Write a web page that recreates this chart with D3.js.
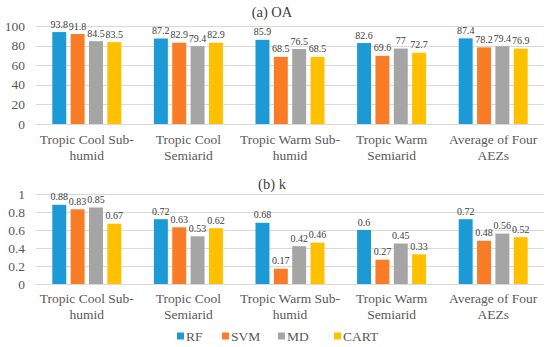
<!DOCTYPE html>
<html>
<head>
<meta charset="utf-8">
<script src="https://cdn.jsdelivr.net/npm/d3@7"></script>
<style>
  body { margin: 0; background: #fff; }
</style>
</head>
<body>
<div id="plot"></div>
<script>
// Data
const categories = [
  ["Tropic Cool Sub-", "humid"],
  ["Tropic Cool", "Semiarid"],
  ["Tropic Warm Sub-", "humid"],
  ["Tropic Warm", "Semiarid"],
  ["Average of Four", "AEZs"]
];
const methods = ["RF", "SVM", "MD", "CART"];

const oaRF = [93.8, 87.2, 85.9, 82.6, 87.4];
const oaSVM = [91.8, 82.9, 68.5, 69.6, 78.2];
const oaMD = [84.5, 79.4, 76.5, 77, 79.4];
const oaCART = [83.5, 82.9, 68.5, 72.7, 76.9];

const kRF = [0.88, 0.72, 0.68, 0.6, 0.72];
const kSVM = [0.83, 0.63, 0.17, 0.27, 0.48];
const kMD = [0.85, 0.53, 0.42, 0.45, 0.56];
const kCART = [0.67, 0.62, 0.46, 0.33, 0.52];

const oaTicks = [0, 20, 40, 60, 80, 100];
const kTicks = [0, 0.2, 0.4, 0.6, 0.8, 1];

const width = 550, height = 347;
const left = 36, right = 544;
const FONT = "'Liberation Serif'";

const color = d3.scaleOrdinal()
  .domain(methods)
  .range(['#1b9ad6', '#fb7c26', '#a5a5a5', '#ffc000']);

const svg = d3.select('#plot')
  .append('svg')
  .attr('width', width)
  .attr('height', height)
  .style('display', 'block')
  .style('background', '#fff');

const x0 = d3.scaleBand()
  .domain(d3.range(categories.length))
  .range([left, right])
  .padding(0);

const inner = 69;
const x1 = d3.scaleBand()
  .domain(methods)
  .range([(x0.bandwidth() - inner) / 2, (x0.bandwidth() + inner) / 2])
  .paddingInner(0.24)
  .paddingOuter(0);

function drawPanel(opts) {
  const g = svg.append('g');
  const y = d3.scaleLinear().domain([0, opts.max]).range([opts.y0, opts.y1]);

  // gridlines
  g.selectAll('line.grid')
    .data(opts.ticks)
    .join('line')
    .attr('x1', left).attr('x2', right)
    .attr('y1', d => Math.round(y(d)) + 0.5)
    .attr('y2', d => Math.round(y(d)) + 0.5)
    .attr('stroke', '#d9d9d9')
    .attr('stroke-width', 1);

  // y tick labels
  g.selectAll('text.ytick')
    .data(opts.ticks)
    .join('text')
    .attr('x', 25)
    .attr('y', d => y(d) + 4.5)
    .attr('text-anchor', 'end')
    .style('font-family', FONT)
    .style('font-size', '13.5px')
    .style('fill', '#595959')
    .text(d => d);

  // title
  g.append('text')
    .attr('x', 272)
    .attr('y', opts.titleY)
    .attr('text-anchor', 'middle')
    .style('font-family', FONT)
    .style('font-size', '14.5px')
    .style('fill', '#404040')
    .text(opts.title);

  const rows = [];
  opts.series.forEach((vals, si) => {
    vals.forEach((v, ci) => rows.push({ method: methods[si], cat: ci, value: v }));
  });

  const groups = g.selectAll('g.cat')
    .data(d3.group(rows, d => d.cat))
    .join('g')
    .attr('transform', d => `translate(${x0(d[0])},0)`);

  groups.selectAll('rect')
    .data(d => d[1])
    .join('rect')
    .attr('x', d => x1(d.method))
    .attr('y', d => y(d.value))
    .attr('width', x1.bandwidth())
    .attr('height', d => y(0) - y(d.value))
    .attr('fill', d => color(d.method));

  groups.selectAll('text')
    .data(d => d[1])
    .join('text')
    .attr('x', d => x1(d.method) + x1.bandwidth() / 2)
    .attr('y', d => y(d.value) - 4.5)
    .attr('text-anchor', 'middle')
    .style('font-family', FONT)
    .style('font-size', '10px')
    .style('fill', '#404040')
    .text(d => d.value);

  // category labels
  const cl = g.selectAll('text.cat')
    .data(categories)
    .join('text')
    .attr('x', (d, i) => x0(i) + x0.bandwidth() / 2)
    .attr('y', opts.labelY)
    .attr('text-anchor', 'middle')
    .style('font-family', FONT)
    .style('font-size', '13.5px')
    .style('fill', '#595959');
  cl.selectAll('tspan')
    .data(d => d)
    .join('tspan')
    .attr('x', function () { return d3.select(this.parentNode).attr('x'); })
    .attr('dy', (d, i) => i === 0 ? 0 : 15.5)
    .text(d => d);
}

drawPanel({
  title: '(a) OA', titleY: 17, max: 100, y0: 124, y1: 26,
  ticks: oaTicks, labelY: 144, series: [oaRF, oaSVM, oaMD, oaCART]
});

drawPanel({
  title: '(b) k', titleY: 189, max: 1, y0: 284, y1: 194,
  ticks: kTicks, labelY: 303, series: [kRF, kSVM, kMD, kCART]
});

// legend
const legendX = [177, 222, 278, 334];
const legend = svg.append('g').attr('transform', 'translate(0,336)');
legend.selectAll('rect')
  .data(methods)
  .join('rect')
  .attr('x', (d, i) => legendX[i])
  .attr('y', -3.5)
  .attr('width', 7)
  .attr('height', 7)
  .attr('fill', d => color(d));
legend.selectAll('text')
  .data(methods)
  .join('text')
  .attr('x', (d, i) => legendX[i] + 9)
  .attr('y', 4.5)
  .style('font-family', FONT)
  .style('font-size', '13.5px')
  .style('fill', '#595959')
  .text(d => d);
</script>
</body>
</html>
